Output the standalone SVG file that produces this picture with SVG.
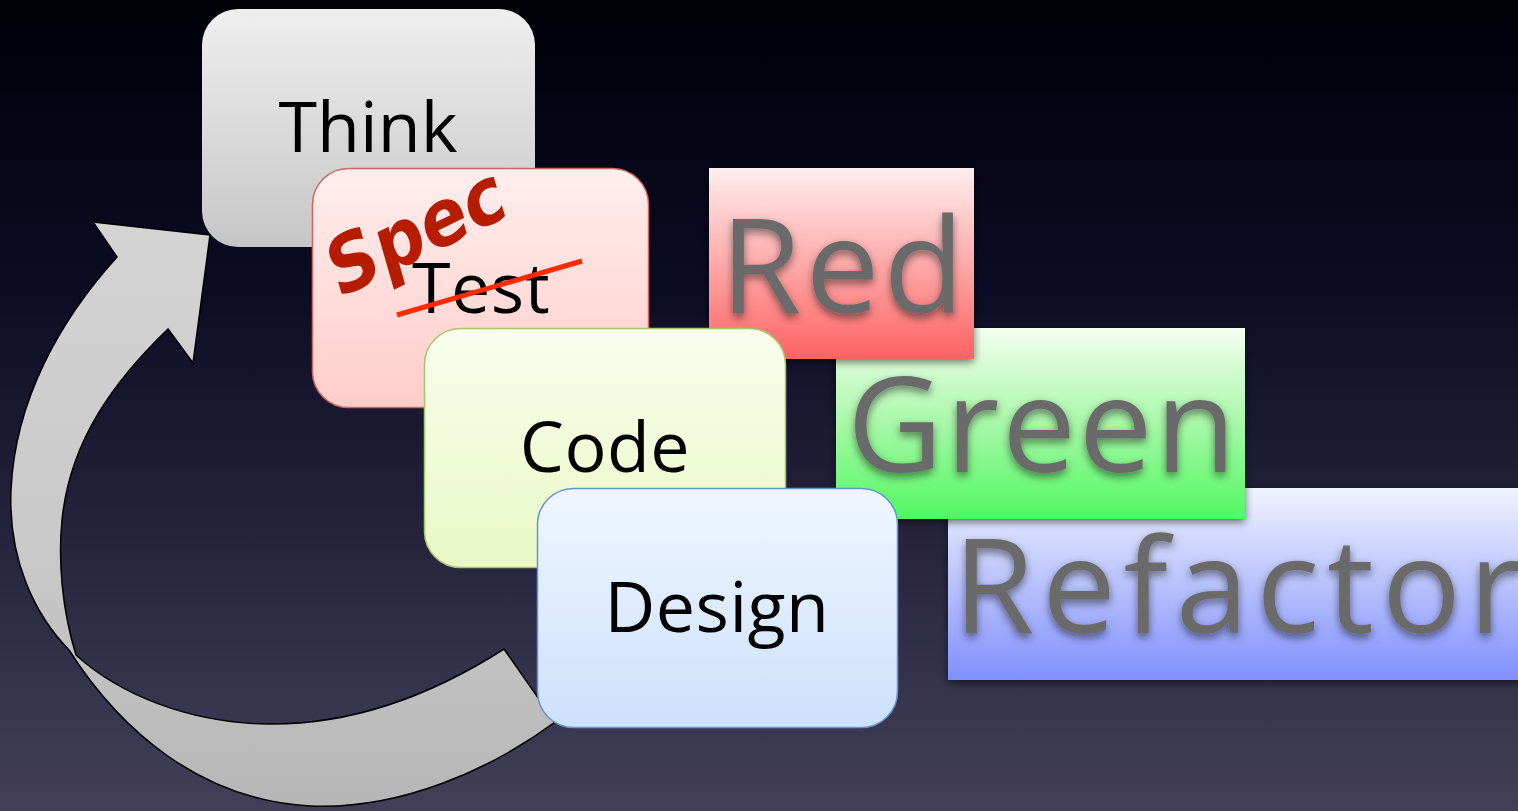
<svg xmlns="http://www.w3.org/2000/svg" width="1518" height="811" viewBox="0 0 1518 811">
  <defs>
    <linearGradient id="bg" x1="0" y1="0" x2="0" y2="1">
      <stop offset="0" stop-color="#000008"/>
      <stop offset="0.35" stop-color="#0b0b24"/>
      <stop offset="1" stop-color="#433f58"/>
    </linearGradient>
    <linearGradient id="gThink" x1="0" y1="0" x2="0" y2="1">
      <stop offset="0" stop-color="#efefef"/>
      <stop offset="1" stop-color="#c6c6c6"/>
    </linearGradient>
    <linearGradient id="gTest" x1="0" y1="0" x2="0" y2="1">
      <stop offset="0" stop-color="#ffeeee"/>
      <stop offset="1" stop-color="#ffcdc9"/>
    </linearGradient>
    <linearGradient id="gCode" x1="0" y1="0" x2="0" y2="1">
      <stop offset="0" stop-color="#f8ffee"/>
      <stop offset="1" stop-color="#eaf8c6"/>
    </linearGradient>
    <linearGradient id="gDesign" x1="0" y1="0" x2="0" y2="1">
      <stop offset="0" stop-color="#f0f6ff"/>
      <stop offset="1" stop-color="#cce1fb"/>
    </linearGradient>
    <linearGradient id="gRed" x1="0" y1="0" x2="0" y2="1">
      <stop offset="0" stop-color="#ffeeee"/>
      <stop offset="0.5" stop-color="#ffaaaa"/>
      <stop offset="1" stop-color="#ff6262"/>
    </linearGradient>
    <linearGradient id="gGreen" x1="0" y1="0" x2="0" y2="1">
      <stop offset="0" stop-color="#f4fff0"/>
      <stop offset="0.5" stop-color="#a8f8a8"/>
      <stop offset="1" stop-color="#4ff860"/>
    </linearGradient>
    <linearGradient id="gRefactor" x1="0" y1="0" x2="0" y2="1">
      <stop offset="0" stop-color="#f0f3ff"/>
      <stop offset="0.5" stop-color="#b8c2fc"/>
      <stop offset="1" stop-color="#808fff"/>
    </linearGradient>
    <linearGradient id="gArrow" x1="0" y1="0" x2="0" y2="1">
      <stop offset="0" stop-color="#d4d4d4"/>
      <stop offset="0.6" stop-color="#c8c8c8"/>
      <stop offset="1" stop-color="#b6b6b6"/>
    </linearGradient>
    <filter id="boxShadow" x="-10%" y="-10%" width="130%" height="130%">
      <feDropShadow dx="0" dy="3" stdDeviation="4" flood-color="#000" flood-opacity="0.55"/>
    </filter>
    <filter id="textShadow" x="-10%" y="-20%" width="130%" height="150%">
      <feDropShadow dx="0" dy="4" stdDeviation="4" flood-color="#000" flood-opacity="0.5"/>
    </filter>
  </defs>
  <style>
    .card { stroke-width: 1.5; }
    .label { font-family: "Open Sans", "Noto Sans", sans-serif; font-size: 70px; fill: #000; text-anchor: middle; letter-spacing: 0.5px; }
    .big { font-family: "Open Sans", "Noto Sans", sans-serif; font-size: 132px; fill: #6b6b6b; filter: url(#textShadow); }
    .spec { font-family: "DejaVu Sans Condensed", "DejaVu Sans", sans-serif; font-stretch: condensed; font-weight: bold; font-style: italic; font-size: 78px; fill: #b51c00; }
  </style>

  <rect width="1518" height="811" fill="url(#bg)"/>

  <!-- cycle arrow -->
  <g id="connectors">
    <path d="M 555,722 L 504,649 C 440,690 360,725 268,724 C 190,723 120,695 76,655 C 62,610 58,560 62,520 C 70,440 115,380 168,329 L 193,363 L 210,235 L 93,222 L 117,257 C 60,320 15,400 11,490 C 8,560 35,615 69,650 C 120,730 200,800 310,806 C 400,810 490,770 555,722 Z"
          fill="url(#gArrow)" stroke="#000" stroke-width="1.5" stroke-linejoin="miter"/>
  </g>

  <g id="think">
    <rect x="202" y="9" width="333" height="238" rx="36" fill="url(#gThink)"/>
    <text class="label" x="368" y="152" style="letter-spacing:0">Think</text>
  </g>

  <g id="test">
    <rect class="card" x="312.5" y="168.5" width="336" height="239" rx="36" fill="url(#gTest)" stroke="#d0665e"/>
    <text class="label" x="481" y="313">Test</text>
    <line x1="397" y1="315" x2="582" y2="261" stroke="#ff2a00" stroke-width="5"/>
    <text class="spec" x="0" y="0" transform="translate(342,297) rotate(-26)">Spec</text>
  </g>

  <g id="refactor">
    <rect x="948" y="488" width="580" height="192" fill="url(#gRefactor)" filter="url(#boxShadow)"/>
    <text class="big" x="953" y="633" style="letter-spacing:7.5px">Refactor</text>
  </g>

  <g id="green">
    <rect x="836" y="328" width="409" height="191" fill="url(#gGreen)" filter="url(#boxShadow)"/>
    <text class="big" x="847" y="472" style="letter-spacing:2.5px">Green</text>
  </g>

  <g id="red">
    <rect x="709" y="168" width="265" height="191" fill="url(#gRed)" filter="url(#boxShadow)"/>
    <text class="big" x="720" y="313" style="letter-spacing:4px">Red</text>
  </g>

  <g id="code">
    <rect class="card" x="424.5" y="328.5" width="361" height="239" rx="36" fill="url(#gCode)" stroke="#a6c66a"/>
    <text class="label" x="605" y="472">Code</text>
  </g>

  <g id="design">
    <rect class="card" x="537.5" y="488.5" width="360" height="239" rx="36" fill="url(#gDesign)" stroke="#6494d0"/>
    <text class="label" x="717" y="632">Design</text>
  </g>
</svg>
